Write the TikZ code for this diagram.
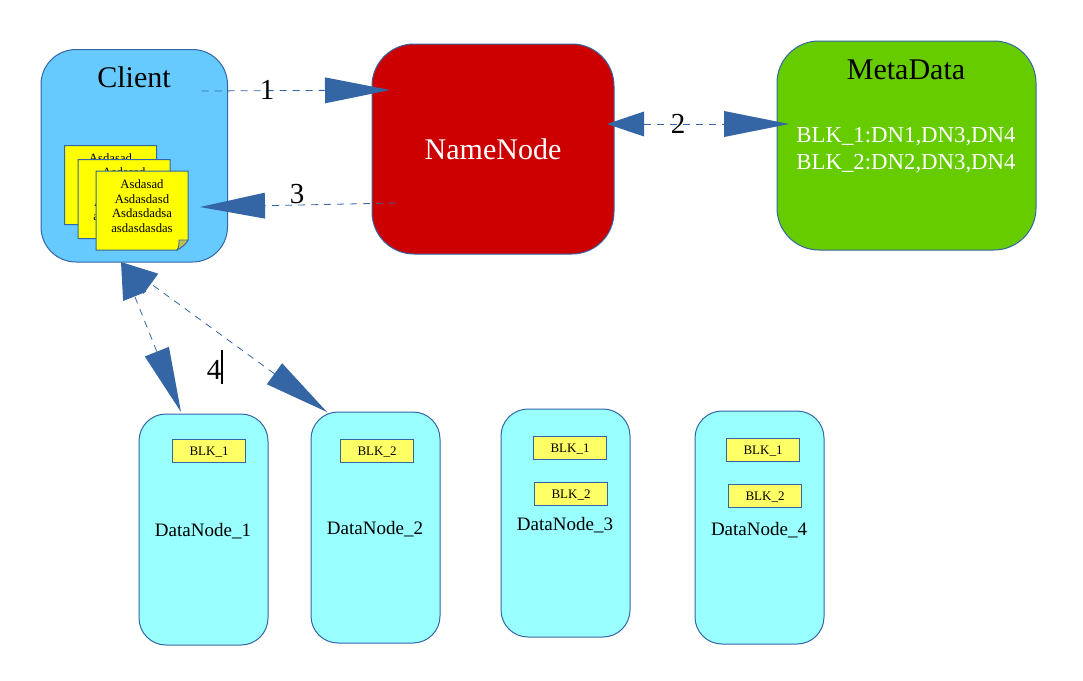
\documentclass[tikz,border=0pt]{standalone}
\usepackage{fontspec}
\setmainfont{Liberation Serif}
\usetikzlibrary{arrows.meta}
\definecolor{edgeblue}{HTML}{3465A4}
\definecolor{clientblue}{HTML}{66CAFF}
\definecolor{namered}{HTML}{CC0000}
\definecolor{metagreen}{HTML}{66CC00}
\definecolor{datacyan}{HTML}{99FFFF}
\definecolor{blockyellow}{HTML}{FFFF66}
\definecolor{noteyellow}{HTML}{FFFF00}
\definecolor{foldyellow}{HTML}{C0C04A}
\tikzset{
  x=1pt, y=-1pt,
  box/.style={draw=edgeblue, line width=1pt, anchor=north west, inner sep=0pt, outer sep=0pt},
  clientbox/.style={box, fill=clientblue, rounded corners=35pt, minimum width=186.5pt, minimum height=212.5pt},
  namebox/.style={box, fill=namered, rounded corners=42pt, minimum width=242pt, minimum height=210pt,
    text=white, font=\fontsize{30}{36}\selectfont},
  metabox/.style={box, fill=metagreen, rounded corners=42pt, minimum width=259pt, minimum height=209pt},
  datanode/.style={box, fill=datacyan, rounded corners=27pt, minimum width=129pt},
  blkbox/.style={draw=edgeblue, line width=1pt, fill=blockyellow, inner sep=0pt, outer sep=0pt,
    minimum width=73.4pt, minimum height=23.4pt, text height=9pt, text depth=0pt,
    font=\fontsize{13}{15}\selectfont, anchor=north west},
  dataname/.style={anchor=base, inner sep=0pt, font=\fontsize{19}{22}\selectfont},
  bigtext/.style={anchor=base, inner sep=0pt, font=\fontsize{30}{36}\selectfont},
  metatext/.style={anchor=base, inner sep=0pt, text=white, font=\fontsize{22.8}{26}\selectfont},
  steplabel/.style={anchor=base, inner sep=0pt, font=\fontsize{29}{34}\selectfont},
  notetext/.style={align=center, inner sep=0pt, font=\fontsize{12.7}{14.6}\selectfont},
  flow/.style={draw=edgeblue, line width=0.8pt, dash pattern=on 7pt off 6pt},
  shorthead/.tip={Triangle[length=37pt,width=25pt,line width=0pt,fill=edgeblue,color=edgeblue]},
  longtip/.tip={Triangle[length=65pt,width=26pt,line width=0pt,fill=edgeblue,color=edgeblue]},
}
% One sticky note: sheet with a turned-up corner, then its four lines of text.
\newcommand{\stickynote}[3]{%
  \begin{scope}[shift={(#1,#2)}]
    \path[draw=edgeblue, line width=1pt, fill=noteyellow]
      (0,0) -- (92,0) -- (92,69) .. controls (90,73) and (85,77) .. (81,79) -- (0,79) -- cycle;
    \path[draw=edgeblue, line width=0.8pt, fill=foldyellow]
      (92,69) .. controls (90,73) and (85,77) .. (81,79) .. controls (83,76) and (83,72) .. (83,69)
      -- cycle;
    \node[notetext] (#3) at (46,35) {Asdasad\\Asdasdasd\\Asdasdadsa\\asdasdasdas};
  \end{scope}}
\begin{document}
\begin{tikzpicture}
  \useasboundingbox (0,0) rectangle (1083,680);

  % Main boxes
  \node[clientbox] (client) at (41,49.5) {};
  \node[namebox] (namenode) at (372,44) {NameNode};
  \node[metabox] (metadata) at (777,41) {};

  \node[bigtext] (clienttitle) at (134,87) {Client};
  \node[bigtext] (metatitle) at (906,79) {MetaData};
  \node[metatext] (metaone) at (906,142) {BLK\_1:DN1,DN3,DN4};
  \node[metatext] (metatwo) at (906,169) {BLK\_2:DN2,DN3,DN4};

  % Stack of notes held by the client
  \stickynote{64.5}{145.5}{noteback}
  \stickynote{78}{159.5}{notemid}
  \stickynote{96}{171}{notefront}

  % Data nodes and their blocks
  \node[datanode, minimum height=231pt] (dn1) at (139,414) {};
  \node[datanode, minimum height=231pt] (dn2) at (311,412) {};
  \node[datanode, minimum height=228pt] (dn3) at (501,409) {};
  \node[datanode, minimum height=233pt] (dn4) at (695,411) {};

  \node[dataname] (dn1name) at (203,536) {DataNode\_1};
  \node[dataname] (dn2name) at (375,534) {DataNode\_2};
  \node[dataname] (dn3name) at (565,530) {DataNode\_3};
  \node[dataname] (dn4name) at (759,535) {DataNode\_4};

  \node[blkbox] (b11) at (172.3,439.3) {BLK\_1};
  \node[blkbox] (b12) at (340.3,439.3) {BLK\_2};
  \node[blkbox] (b31) at (533.3,436.3) {BLK\_1};
  \node[blkbox] (b32) at (534.3,482.3) {BLK\_2};
  \node[blkbox] (b41) at (726.3,438.3) {BLK\_1};
  \node[blkbox] (b42) at (728.3,484.3) {BLK\_2};

  % Numbered flows between the boxes
  \draw[flow, -longtip] ([shift={(-26,41.5)}]client.north east) -- ([shift={(18,46)}]namenode.north west);
  \draw[flow, shorthead-longtip] ([shift={(-7,80)}]namenode.north east) -- ([shift={(12,83)}]metadata.north west);
  \draw[flow, -longtip] ([shift={(24,159)}]namenode.north west) -- ([shift={(-27.5,-55)}]client.south east);
  \draw[flow, longtip-shorthead] ([shift={(42,-2)}]dn1.north west) -- ([shift={(80,0)}]client.south west);
  \draw[flow, longtip-shorthead] ([shift={(16,0)}]dn2.north west) -- ([shift={(80,0)}]client.south west);

  \node[steplabel] (one) at (267,99) {1};
  \node[steplabel] (two) at (678,133) {2};
  \node[steplabel] (three) at (297,203) {3};
  \node[steplabel] (four) at (214,379) {4};

  % Text cursor left beside the last number
  \draw[black, line width=1.4pt] (222,350) -- (222,384);
\end{tikzpicture}
\end{document}
